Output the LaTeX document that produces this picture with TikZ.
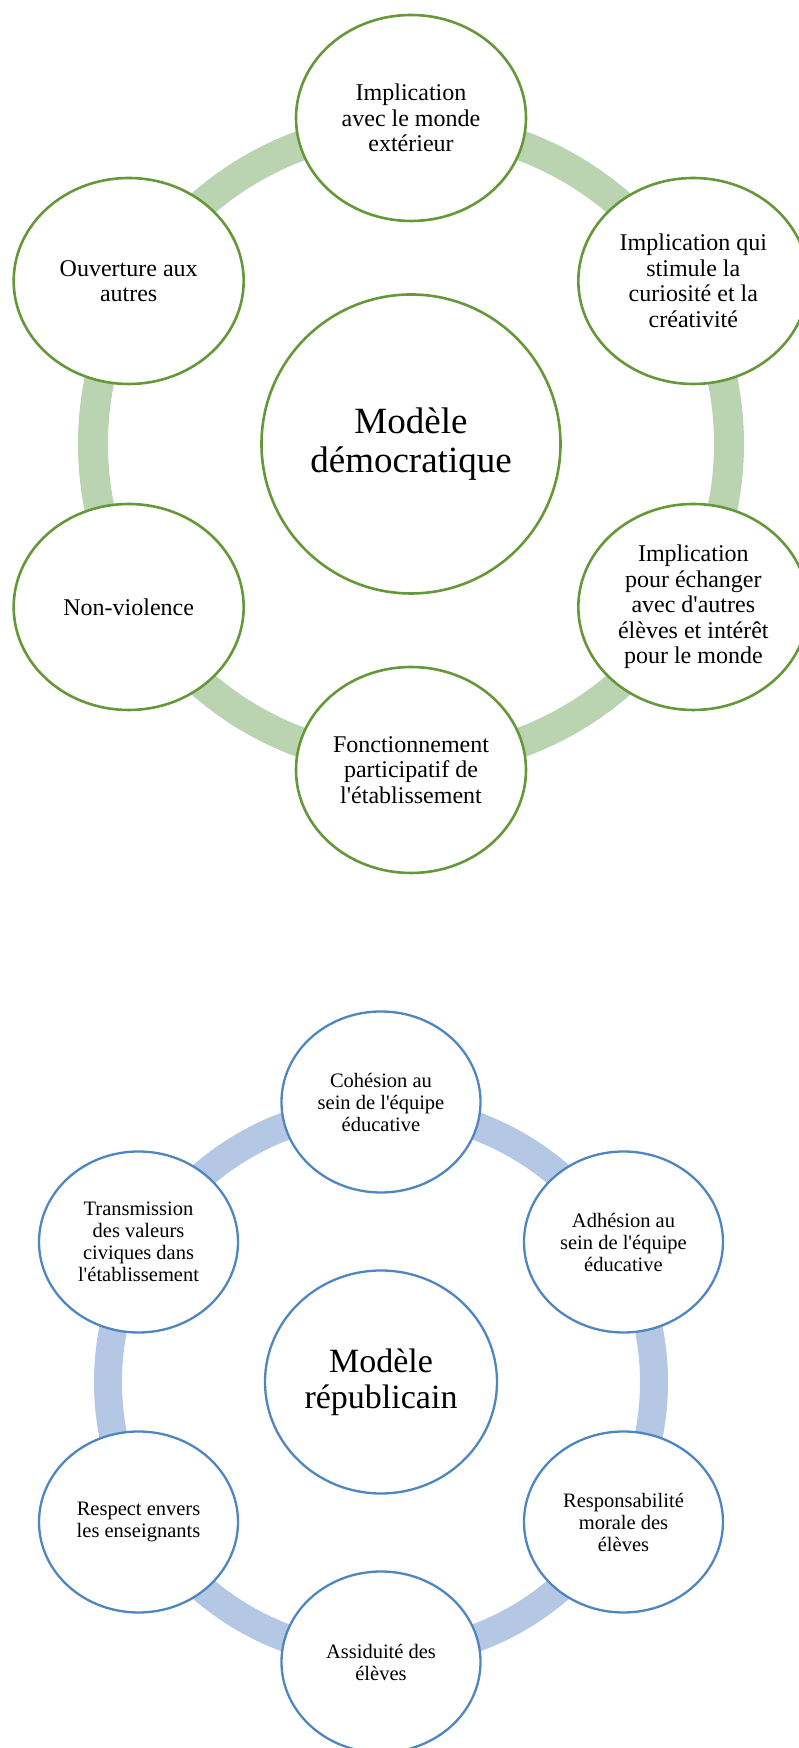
\documentclass[tikz,border=0pt]{standalone}
\usepackage{fontspec}
\setmainfont{Liberation Serif}[Ligatures=TeXOff]
\usetikzlibrary{shapes.geometric}

\definecolor{demoline}{RGB}{100,152,56}
\definecolor{demoband}{RGB}{186,212,178}
\definecolor{repline}{RGB}{79,134,192}
\definecolor{repband}{RGB}{180,200,230}

\begin{document}
\begin{tikzpicture}[
    x=1pt, y=1pt,
    demopetal/.style={ellipse, draw=demoline, line width=2.6pt, fill=white,
                inner sep=0pt, minimum width=230pt, minimum height=206pt,
                align=center, font=\fontsize{24}{25.5}\selectfont},
    democore/.style={circle, draw=demoline, line width=2.6pt, fill=white,
                inner sep=0pt, minimum size=299pt,
                align=center, font=\fontsize{37}{39}\selectfont},
    demoring/.style={draw=demoband, line width=30pt},
    reppetal/.style={ellipse, draw=repline, line width=2.3pt, fill=white,
                inner sep=0pt, minimum width=199pt, minimum height=181pt,
                align=center, font=\fontsize{20.5}{22}\selectfont},
    repcore/.style={ellipse, draw=repline, line width=2.3pt, fill=white,
                inner sep=0pt, minimum width=232pt, minimum height=223pt,
                align=center, font=\fontsize{34}{36}\selectfont},
    repring/.style={draw=repband, line width=28pt}
]
\useasboundingbox (0,0) rectangle (798,1748);

% === MODELE DEMOCRATIQUE ===
\coordinate (dmid) at (411,1304);
\draw[demoring] (dmid) circle[radius=318];

\node[democore] (dcore) at (dmid) {Modèle\\démocratique};
\node[demopetal] (dtop) at ([shift={(90:326)}]dmid) {Implication\\avec le monde\\extérieur};
\node[demopetal] (dright) at ([shift={(30:326)}]dmid) {Implication qui\\stimule la\\curiosité et la\\créativité};
\node[demopetal] (dlowright) at ([shift={(-30:326)}]dmid) {Implication\\pour échanger\\avec d'autres\\élèves et intérêt\\pour le monde};
\node[demopetal] (dbottom) at ([shift={(-90:326)}]dmid) {Fonctionnement\\participatif de\\l'établissement};
\node[demopetal] (dlowleft) at ([shift={(210:326)}]dmid) {Non-violence};
\node[demopetal] (dleft) at ([shift={(150:326)}]dmid) {Ouverture aux\\autres};

% === MODELE REPUBLICAIN ===
\coordinate (rmid) at (381,366);
\draw[repring] (rmid) circle[radius=273];

\node[repcore] (rcore) at (rmid) {Modèle\\républicain};
\node[reppetal] (rtop) at ([shift={(90:280)}]rmid) {Cohésion au\\sein de l'équipe\\éducative};
\node[reppetal] (rright) at ([shift={(30:280)}]rmid) {Adhésion au\\sein de l'équipe\\éducative};
\node[reppetal] (rlowright) at ([shift={(-30:280)}]rmid) {Responsabilité\\morale des\\élèves};
\node[reppetal] (rbottom) at ([shift={(-90:280)}]rmid) {Assiduité des\\élèves};
\node[reppetal] (rlowleft) at ([shift={(210:280)}]rmid) {Respect envers\\les enseignants};
\node[reppetal] (rleft) at ([shift={(150:280)}]rmid) {Transmission\\des valeurs\\civiques dans\\l'établissement};

\end{tikzpicture}
\end{document}
